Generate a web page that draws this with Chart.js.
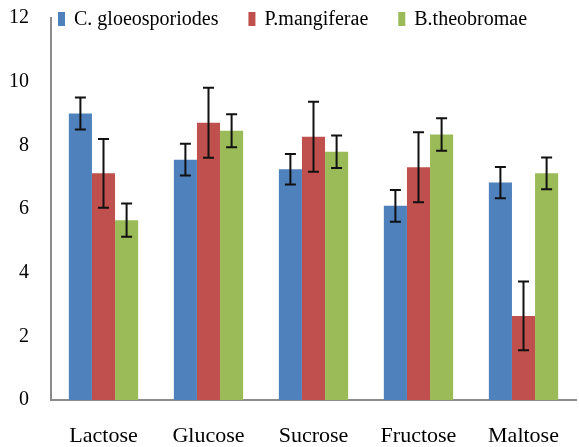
<!DOCTYPE html>
<html>
<head>
<meta charset="utf-8">
<script src="https://cdn.jsdelivr.net/npm/chart.js@4.4.0/dist/chart.umd.min.js"></script>
<style>
html,body{margin:0;padding:0;background:#fff;}
#wrap{width:579px;height:447px;}
</style>
</head>
<body>
<div id="wrap"><canvas id="c" width="579" height="447"></canvas></div>
<script>
const categories = ["Lactose", "Glucose", "Sucrose", "Fructose", "Maltose"];
const seriesNames = ["C. gloeosporiodes", "P.mangiferae", "B.theobromae"];
const cGloeo = [9.0, 7.55, 7.25, 6.1, 6.83];
const pMangi = [7.12, 8.71, 8.27, 7.31, 2.64];
const bTheo = [5.65, 8.46, 7.8, 8.34, 7.12];
const cGloeoErr = [0.5, 0.5, 0.48, 0.5, 0.49];
const pMangiErr = [1.08, 1.1, 1.1, 1.1, 1.08];
const bTheoErr = [0.52, 0.52, 0.51, 0.51, 0.5];
const yTicks = [0, 2, 4, 6, 8, 10, 12];
const colors = ["#4F81BD", "#C0504D", "#9BBB59"];

const FONT = "'Liberation Serif', 'Times New Roman', serif";

const errorBars = {
  id: 'errorBars',
  afterDatasetsDraw(chart) {
    const ctx = chart.ctx;
    const y = chart.scales.y;
    ctx.save();
    ctx.strokeStyle = '#111';
    ctx.lineWidth = 2;
    chart.data.datasets.forEach((ds, di) => {
      const meta = chart.getDatasetMeta(di);
      meta.data.forEach((bar, i) => {
        const v = ds.data[i], e = ds.err[i];
        const yt = y.getPixelForValue(v + e), yb = y.getPixelForValue(v - e);
        const x = bar.x, cap = 5.5;
        ctx.beginPath();
        ctx.moveTo(x, yt); ctx.lineTo(x, yb);
        ctx.moveTo(x - cap, yt); ctx.lineTo(x + cap, yt);
        ctx.moveTo(x - cap, yb); ctx.lineTo(x + cap, yb);
        ctx.stroke();
      });
    });
    ctx.restore();
  }
};

const customLegend = {
  id: 'customLegend',
  afterDraw(chart) {
    const ctx = chart.ctx;
    const area = chart.chartArea;
    ctx.save();
    ctx.font = "20px " + FONT;
    ctx.textBaseline = 'middle';
    ctx.fillStyle = '#000';
    let x = area.left + 7;
    const yc = area.top + 1;
    chart.data.datasets.forEach((ds) => {
      ctx.fillStyle = ds.backgroundColor;
      ctx.fillRect(x, yc - 7, 7, 14);
      x += 16;
      ctx.fillStyle = '#000';
      ctx.fillText(ds.label, x, yc + 1);
      x += ctx.measureText(ds.label).width + 30;
    });
    ctx.restore();
  }
};

const datasets = [cGloeo, pMangi, bTheo].map((d, i) => ({
  label: seriesNames[i],
  data: d,
  err: [cGloeoErr, pMangiErr, bTheoErr][i],
  backgroundColor: colors[i],
  borderWidth: 0,
  categoryPercentage: 0.66,
  barPercentage: 1.0
}));

new Chart(document.getElementById('c'), {
  type: 'bar',
  data: { labels: categories, datasets },
  options: {
    responsive: false,
    animation: false,
    devicePixelRatio: 1,
    layout: { padding: { top: 18, right: 3, left: 0, bottom: 0 } },
    plugins: { legend: { display: false }, tooltip: { enabled: false } },
    scales: {
      x: {
        grid: { display: false, drawTicks: false },
        border: { display: true, color: '#8c8c8c', width: 2 },
        ticks: { color: '#000', font: { family: FONT, size: 22 }, padding: 23 },
        afterFit(s) { s.height = 47; s.paddingLeft = 0; s.paddingRight = 0; }
      },
      y: {
        min: 0, max: 12,
        afterBuildTicks(s) { s.ticks = yTicks.map(v => ({ value: v })); },
        grid: { display: false, drawTicks: false },
        border: { display: true, color: '#8c8c8c', width: 2 },
        ticks: { color: '#000', font: { family: FONT, size: 20 }, padding: 22 },
        afterFit(s) { s.width = 51; s.paddingTop = 0; s.paddingBottom = 0; }
      }
    }
  },
  plugins: [errorBars, customLegend]
});
</script>
</body>
</html>
